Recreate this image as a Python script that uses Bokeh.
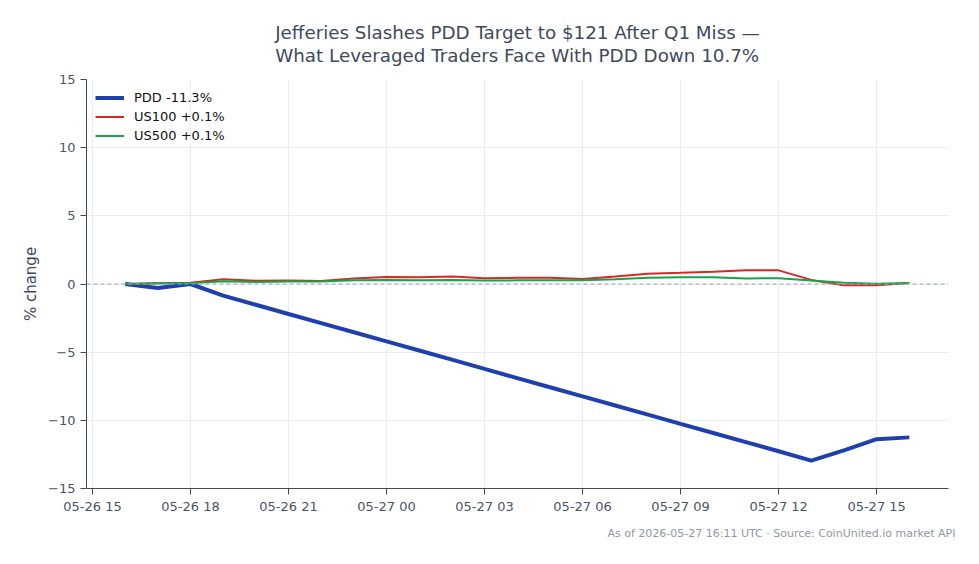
from datetime import datetime, timedelta
from bokeh.plotting import figure
from bokeh.models import (FixedTicker, DatetimeTickFormatter, Span, Title, Range1d, Legend, LegendItem)
from bokeh.embed import file_html
from bokeh.resources import INLINE

# ---- data ----
start = datetime(2026, 5, 26, 16)
hours = list(range(25))
times = [start + timedelta(hours=h) for h in hours]

pdd = [0.0, -0.30, 0.0, -0.85, -1.52, -2.20, -2.87, -3.54, -4.21, -4.88, -5.55,
       -6.23, -6.90, -7.57, -8.24, -8.91, -9.58, -10.26, -10.93, -11.60, -12.27,
       -12.95, -12.20, -11.38, -11.25]
us100 = [0.0, 0.05, 0.10, 0.35, 0.23, 0.25, 0.22, 0.40, 0.52, 0.50, 0.55,
         0.42, 0.45, 0.45, 0.36, 0.55, 0.75, 0.82, 0.90, 1.00, 1.00,
         0.30, -0.10, -0.10, 0.07]
us500 = [0.0, 0.05, 0.05, 0.20, 0.15, 0.18, 0.18, 0.28, 0.30, 0.28, 0.30,
         0.25, 0.27, 0.28, 0.28, 0.35, 0.45, 0.50, 0.50, 0.40, 0.43,
         0.25, 0.10, 0.02, 0.07]

labels = ["PDD -11.3%", "US100 +0.1%", "US500 +0.1%"]
colors = ["#1e40af", "#dc2626", "#16a34a"]
widths = [4, 2, 2]

tick_times = [datetime(2026, 5, 26, 15) + timedelta(hours=3 * i) for i in range(9)]
y_ticks = [-15, -10, -5, 0, 5, 10, 15]

TXT = "#3d4a5c"
FONT = "DejaVu Sans"

p = figure(width=979, height=564, x_axis_type="datetime", output_backend="svg",
           toolbar_location=None,
           x_range=Range1d(datetime(2026, 5, 26, 14, 49), datetime(2026, 5, 27, 17, 12)),
           y_range=Range1d(-15, 15),
           min_border_left=86, min_border_right=31, min_border_top=79, min_border_bottom=76)
p.outline_line_color = None
p.background_fill_color = "white"
p.border_fill_color = "white"

p.title.text = "Jefferies Slashes PDD Target to $121 After Q1 Miss —\nWhat Leveraged Traders Face With PDD Down 10.7%"
p.title.align = "center"
p.title.text_font = FONT
p.title.text_font_size = "18.3px"
p.title.text_font_style = "normal"
p.title.text_color = TXT
p.title.standoff = 27
p.title.text_line_height = 1.1

zero = Span(location=0, dimension="width", line_color="#94a3b8", line_dash="4 3", line_width=1)
p.add_layout(zero)

items = []
for ys, lab, col, w in zip([pdd, us100, us500], labels, colors, widths):
    r = p.line(times, ys, line_color=col, line_width=w)
    items.append(LegendItem(label=lab, renderers=[r]))

leg = Legend(items=items, location="top_left", border_line_color=None,
             background_fill_alpha=0, label_text_font=FONT, label_text_font_size="13px",
             label_text_color="#111111", glyph_width=29, glyph_height=19, label_height=19,
             label_standoff=10, spacing=0, padding=2, margin=9)
p.add_layout(leg)

p.xaxis.ticker = FixedTicker(ticks=[t.timestamp() * 1000 for t in tick_times])
fmt = "%m-%d %H"
p.xaxis.formatter = DatetimeTickFormatter(hours=fmt, days=fmt, hourmin=fmt, minutes=fmt, months=fmt)
p.yaxis.ticker = FixedTicker(ticks=y_ticks)
p.yaxis.major_label_overrides = {v: (f"−{abs(v)}" if v < 0 else str(v)) for v in y_ticks}

for ax in (p.xaxis[0], p.yaxis[0]):
    ax.axis_line_color = TXT
    ax.major_tick_line_color = TXT
    ax.major_tick_out = 6
    ax.major_tick_in = 0
    ax.minor_tick_line_color = None
    ax.major_label_text_font = FONT
    ax.major_label_text_font_size = "13px"
    ax.major_label_text_color = "#4a5568"
p.xaxis.major_label_standoff = 4

p.yaxis.axis_label = "% change"
p.yaxis.axis_label_text_font = FONT
p.yaxis.axis_label_text_font_size = "15px"
p.yaxis.axis_label_text_font_style = "normal"
p.yaxis.axis_label_text_color = TXT

p.grid.grid_line_color = "#e5e7eb"
p.grid.grid_line_alpha = 0.8

foot = Title(text="As of 2026-05-27 16:11 UTC · Source: CoinUnited.io market API",
             align="right", text_font=FONT, text_font_size="11px", text_font_style="normal",
             text_color="#8f98a6", offset=-7, standoff=17)
p.add_layout(foot, "below")

open("out.html", "w").write(file_html(p, INLINE))
